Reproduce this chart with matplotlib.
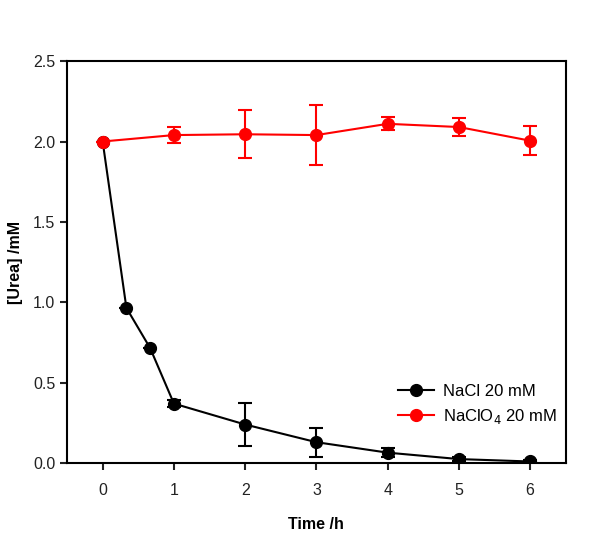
import matplotlib
import matplotlib.pyplot as plt

matplotlib.use("Agg")
plt.rcParams["font.family"] = ["Liberation Sans", "DejaVu Sans"]

# NaCl 20 mM
t_nacl = [0, 1 / 3, 2 / 3, 1, 2, 3, 4, 5, 6]
urea_nacl = [2.0, 0.965, 0.715, 0.37, 0.24, 0.13, 0.065, 0.025, 0.01]
err_nacl = [0, 0, 0, 0.02, 0.135, 0.09, 0.03, 0.01, 0.01]

# NaClO4 20 mM
t_naclo4 = [0, 1, 2, 3, 4, 5, 6]
urea_naclo4 = [2.0, 2.04, 2.045, 2.04, 2.11, 2.09, 2.005]
err_naclo4 = [0, 0.05, 0.15, 0.185, 0.04, 0.055, 0.09]

xticks = [0, 1, 2, 3, 4, 5, 6]
yticks = [0.0, 0.5, 1.0, 1.5, 2.0, 2.5]

fig = plt.figure(figsize=(6.15, 5.36), dpi=100)
ax = fig.add_axes([0.109, 0.136, 0.811, 0.75])

err_kw = dict(fmt="none", elinewidth=1.5, capsize=5, capthick=1.5)
ax.errorbar(t_nacl, urea_nacl, yerr=err_nacl, ecolor="black", zorder=2, **err_kw)
ax.plot(t_nacl, urea_nacl, color="black", marker="o", markersize=8.5,
        linewidth=1.5, label="NaCl 20 mM", zorder=3)
ax.errorbar(t_naclo4, urea_naclo4, yerr=err_naclo4, ecolor="#ff0000", zorder=4,
            **err_kw)
ax.plot(t_naclo4, urea_naclo4, color="#ff0000", marker="o", markersize=8.5,
        linewidth=1.5, label="NaClO$_4$ 20 mM", zorder=5)

ax.set_xlim(-0.5, 6.5)
ax.set_ylim(0, 2.5)
ax.set_xticks(xticks)
ax.set_yticks(yticks)
ax.set_yticklabels([f"{v:.1f}" for v in yticks])
ax.tick_params(direction="out", length=5, width=1.5, labelsize=11.5,
               colors="#222222")
ax.tick_params(axis="x", pad=9)
for sp in ax.spines.values():
    sp.set_linewidth(1.5)

ax.set_xlabel("Time /h", fontsize=11.5, fontweight="bold", labelpad=14)
ax.set_ylabel("[Urea] /mM", fontsize=11.5, fontweight="bold", labelpad=7)

ax.legend(loc="lower right", bbox_to_anchor=(1.012, 0.055), frameon=False,
          fontsize=12, handlelength=2.2, handletextpad=0.5, labelspacing=0.5)

fig.savefig("out.png", dpi=100)
